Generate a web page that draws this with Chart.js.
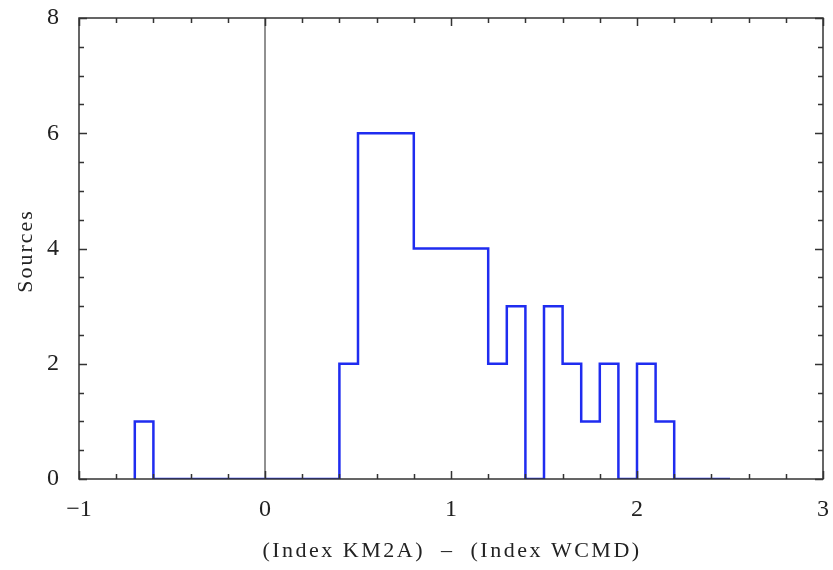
<!DOCTYPE html>
<html lang="en">
<head>
  <meta charset="UTF-8" />
  <title>Index difference histogram</title>
  <script src="https://cdn.jsdelivr.net/npm/chart.js"></script>
  <style>
    body { margin: 0; padding: 0; background: white; }
    #wrap { width: 833px; height: 570px; }
  </style>
</head>
<body>
  <div id="wrap"><canvas id="histChart" width="833" height="570"></canvas></div>

  <script>
    // bin edges (width 0.1) and source counts per bin
    const binEdges = [-0.7, -0.6, -0.5, -0.4, -0.3, -0.2, -0.1, 0.0, 0.1, 0.2, 0.3,
                      0.4, 0.5, 0.6, 0.7, 0.8, 0.9, 1.0, 1.1, 1.2, 1.3, 1.4, 1.5,
                      1.6, 1.7, 1.8, 1.9, 2.0, 2.1, 2.2, 2.3, 2.4, 2.5];
    const counts = [1, 0, 0, 0, 0, 0, 0, 0, 0, 0, 0,
                    2, 6, 6, 6, 4, 4, 4, 4, 2, 3, 0, 3,
                    2, 1, 2, 0, 2, 1, 0, 0, 0];
    const xTicks = [-1, 0, 1, 2, 3];
    const yTicks = [0, 2, 4, 6, 8];
    const zeroLine = [{ x: 0, y: 0 }, { x: 0, y: 8 }];

    // start at the baseline, then one point per right edge carrying that bin's count
    const stepPoints = [{ x: binEdges[0], y: 0 }];
    counts.forEach((c, i) => stepPoints.push({ x: binEdges[i + 1], y: c }));

    const serif = "'Liberation Serif', 'DejaVu Serif', serif";

    const framePlugin = {
      id: "frame",
      afterDraw(chart) {
        const { ctx, chartArea: a, scales } = chart;
        const xs = scales.x, ys = scales.y;
        ctx.save();
        ctx.strokeStyle = "#333";
        ctx.lineWidth = 1.5;
        ctx.strokeRect(a.left, a.top, a.right - a.left, a.bottom - a.top);

        ctx.beginPath();
        // x ticks every 0.2, inward on bottom and top
        for (let v = -1; v <= 3.001; v += 0.2) {
          const px = Math.round(xs.getPixelForValue(v)) + 0.5;
          const major = Math.abs(v - Math.round(v)) < 1e-6;
          const len = major ? 8 : 5;
          ctx.moveTo(px, a.bottom); ctx.lineTo(px, a.bottom - len);
          ctx.moveTo(px, a.top); ctx.lineTo(px, a.top + len);
        }
        // y ticks every 0.5, inward on left and right
        for (let v = 0; v <= 8.001; v += 0.5) {
          const py = Math.round(ys.getPixelForValue(v)) + 0.5;
          const major = Math.abs(v / 2 - Math.round(v / 2)) < 1e-6;
          const len = major ? 8 : 5;
          ctx.moveTo(a.left, py); ctx.lineTo(a.left + len, py);
          ctx.moveTo(a.right, py); ctx.lineTo(a.right - len, py);
        }
        ctx.stroke();

        // axis titles
        ctx.fillStyle = "#222";
        ctx.font = "22px " + serif;
        ctx.textAlign = "center";
        ctx.textBaseline = "middle";
        ctx.letterSpacing = "2.5px";
        ctx.fillText("(Index KM2A)  \u2013  (Index WCMD)", 452, 551);
        ctx.letterSpacing = "2px";
        ctx.translate(26, 251);
        ctx.rotate(-Math.PI / 2);
        ctx.fillText("Sources", 0, 0);
        ctx.restore();
      }
    };

    new Chart(document.getElementById("histChart"), {
      type: "line",
      data: {
        datasets: [
          {
            data: stepPoints,
            stepped: "after",
            borderColor: "#1f2cf0",
            borderWidth: 2.5,
            pointRadius: 0,
            fill: false
          },
          {
            data: zeroLine,
            borderColor: "#222",
            borderWidth: 1,
            pointRadius: 0,
            fill: false
          }
        ]
      },
      options: {
        responsive: false,
        animation: false,
        layout: { padding: { top: 18, right: 10, left: 0, bottom: 0 } },
        plugins: { legend: { display: false }, tooltip: { enabled: false } },
        scales: {
          x: {
            type: "linear",
            min: -1, max: 3,
            afterBuildTicks: s => { s.ticks = xTicks.map(v => ({ value: v })); },
            afterFit: s => { s.height = 91; s.paddingLeft = 0; s.paddingRight = 0; },
            grid: { display: false },
            border: { display: false },
            ticks: {
              color: "#222",
              padding: 8,
              font: { family: serif, size: 24 },
              callback: v => String(v).replace("-", "\u2212")
            }
          },
          y: {
            min: 0, max: 8,
            afterBuildTicks: s => { s.ticks = yTicks.map(v => ({ value: v })); },
            afterFit: s => { s.width = 79; s.paddingTop = 0; s.paddingBottom = 0; },
            grid: { display: false },
            border: { display: false },
            ticks: {
              color: "#222",
              padding: 12,
              font: { family: serif, size: 24 }
            }
          }
        }
      },
      plugins: [framePlugin]
    });
  </script>
</body>
</html>
